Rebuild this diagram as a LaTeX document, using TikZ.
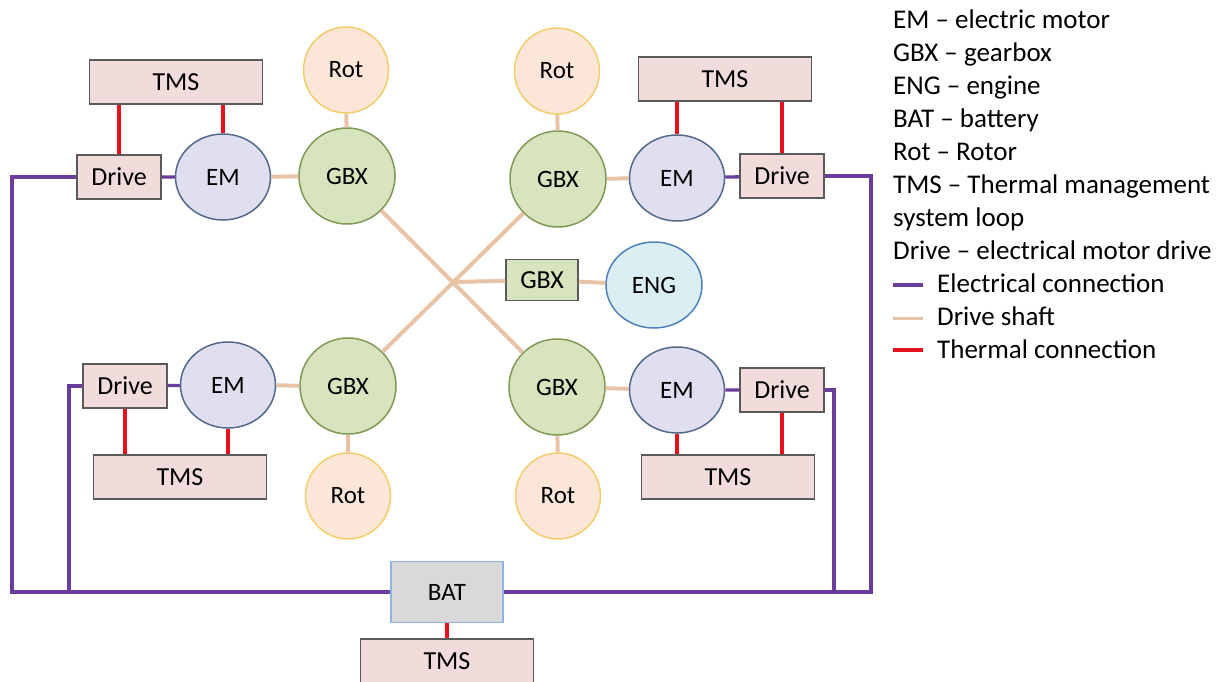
\documentclass[tikz,border=0pt]{standalone}
\usepackage{fontspec}
\setmainfont{Carlito}
\usetikzlibrary{shapes.geometric}

\definecolor{boxfill}{HTML}{F2DCDB}
\definecolor{boxline}{HTML}{5A5A5A}
\definecolor{emfill}{HTML}{E0DFF0}
\definecolor{emline}{HTML}{52698C}
\definecolor{gbxfill}{HTML}{D7E4BD}
\definecolor{gbxline}{HTML}{7F9A55}
\definecolor{rotfill}{HTML}{FCE6D8}
\definecolor{rotline}{HTML}{F2CD6A}
\definecolor{engfill}{HTML}{DBEEF4}
\definecolor{engline}{HTML}{4F81BD}
\definecolor{batfill}{HTML}{D9D9D9}
\definecolor{batline}{HTML}{8EB4E3}
\definecolor{elecline}{HTML}{6A3D9A}
\definecolor{shaftline}{HTML}{E9C3A6}
\definecolor{thermline}{HTML}{E8101C}

\begin{document}
\begin{tikzpicture}[x=1pt, y=-1pt,
	box/.style={draw=boxline, fill=boxfill, line width=1.5pt, inner sep=0pt,
		minimum width=173pt, minimum height=44pt, font=\fontsize{26}{30}\selectfont},
	drv/.style={box, minimum width=84pt},
	ball/.style={ellipse, line width=1.5pt, inner sep=0pt,
		minimum width=95pt, minimum height=86pt, font=\fontsize{25}{30}\selectfont},
	em/.style={ball, draw=emline, fill=emfill},
	gbx/.style={ball, draw=gbxline, fill=gbxfill, minimum width=96pt, minimum height=96pt},
	rot/.style={ball, draw=rotline, fill=rotfill, minimum width=85pt, minimum height=86pt},
	elec/.style={draw=elecline, line width=3.3pt},
	shaft/.style={draw=shaftline, line width=4pt},
	therm/.style={draw=thermline, line width=3.3pt},
	lgd/.style={anchor=base west, inner sep=0pt, font=\fontsize{27}{33}\selectfont}]
	\useasboundingbox (0,0) rectangle (1231,681);

	% top left
	\node [box] (tmsTL) at (176,82) {TMS};
	\node [drv] (drvTL) at (119,177) {Drive};
	\node [em] (emTL) at (223,177) {EM};
	\node [gbx] (gbxTL) at (347,176) {GBX};
	\node [rot] (rotTL) at (346,70) {Rot};
	% top right
	\node [rot] (rotTR) at (557,71) {Rot};
	\node [gbx] (gbxTR) at (558,179) {GBX};
	\node [em] (emTR) at (677,178) {EM};
	\node [drv] (drvTR) at (782,176) {Drive};
	\node [box] (tmsTR) at (725,79) {TMS};
	% bottom left
	\node [drv] (drvBL) at (125,386) {Drive};
	\node [em] (emBL) at (228,385) {EM};
	\node [gbx] (gbxBL) at (348,386) {GBX};
	\node [box] (tmsBL) at (180,477) {TMS};
	\node [rot] (rotBL) at (348,496) {Rot};
	% bottom right
	\node [gbx] (gbxBR) at (557,387) {GBX};
	\node [em] (emBR) at (677,390) {EM};
	\node [drv] (drvBR) at (782,390) {Drive};
	\node [box] (tmsBR) at (728,477) {TMS};
	\node [rot] (rotBR) at (558,496) {Rot};
	% engine
	\coordinate (X) at (453,282);
	\node [box, draw=boxline, fill=gbxfill, minimum width=72pt, minimum height=41pt] (gbxM) at (542,280) {GBX};
	\node [ball, draw=engline, fill=engfill, minimum width=96pt] (eng) at (654,285) {ENG};
	% battery
	\node [box, draw=batline, fill=batfill, minimum width=112pt, minimum height=61pt,
		font=\fontsize{25}{30}\selectfont] (bat) at (447,592) {BAT};
	\node [box] (tmsB) at (447,661) {TMS};

	% shafts
	\draw [shaft] (rotTL) -- (gbxTL) (emTL) -- (gbxTL)
	(rotTR) -- (gbxTR) (emTR) -- (gbxTR)
	(rotBL) -- (gbxBL) (emBL) -- (gbxBL)
	(rotBR) -- (gbxBR) (emBR) -- (gbxBR)
	(gbxTL) -- (gbxBR) (gbxTR) -- (gbxBL)
	(X) -- (gbxM) (gbxM) -- (eng);

	% thermal
	\draw [therm] (drvTL.north) -- (drvTL.north |- tmsTL.south)
	(emTL.north) -- (emTL.north |- tmsTL.south)
	(drvTR.north) -- (drvTR.north |- tmsTR.south)
	(emTR.north) -- (emTR.north |- tmsTR.south)
	(drvBL.south) -- (drvBL.south |- tmsBL.north)
	(emBL.south) -- (emBL.south |- tmsBL.north)
	(drvBR.south) -- (drvBR.south |- tmsBR.north)
	(emBR.south) -- (emBR.south |- tmsBR.north)
	(bat.south) -- (tmsB.north);

	% electrical
	\coordinate (lftO) at (12,400);
	\coordinate (lftI) at (69,480);
	\coordinate (rgtO) at (871,400);
	\coordinate (rgtI) at (834,480);
	\draw [elec] (drvTL) -- (emTL) (drvTR) -- (emTR)
	(drvBL) -- (emBL) (drvBR) -- (emBR);
	\draw [elec] (drvTL.west) -| (lftO) |- (bat.west);
	\draw [elec] (drvBL.west) -| (lftI) |- (bat.west);
	\draw [elec] (drvTR.east) -| (rgtO) |- (bat.east);
	\draw [elec] (drvBR.east) -| (rgtI) |- (bat.east);

	% legend
	\foreach \i/\t in {1/EM – electric motor, 2/GBX – gearbox, 3/ENG – engine,
		4/BAT – battery, 5/Rot – Rotor, 6/TMS – Thermal management,
		7/system loop, 8/Drive – electrical motor drive}
	\node [lgd] (lg\i) at (893,{28+33*(\i-1)}) {\t};
	\node [lgd] (lg9) at (937,292) {Electrical connection};
	\node [lgd] (lg10) at (937,325) {Drive shaft};
	\node [lgd] (lg11) at (937,358) {Thermal connection};
	\draw [elec] (893,285) -- (923,285);
	\draw [shaft, line width=3pt] (893,318) -- (923,318);
	\draw [therm] (893,350) -- (923,350);
\end{tikzpicture}
\end{document}
